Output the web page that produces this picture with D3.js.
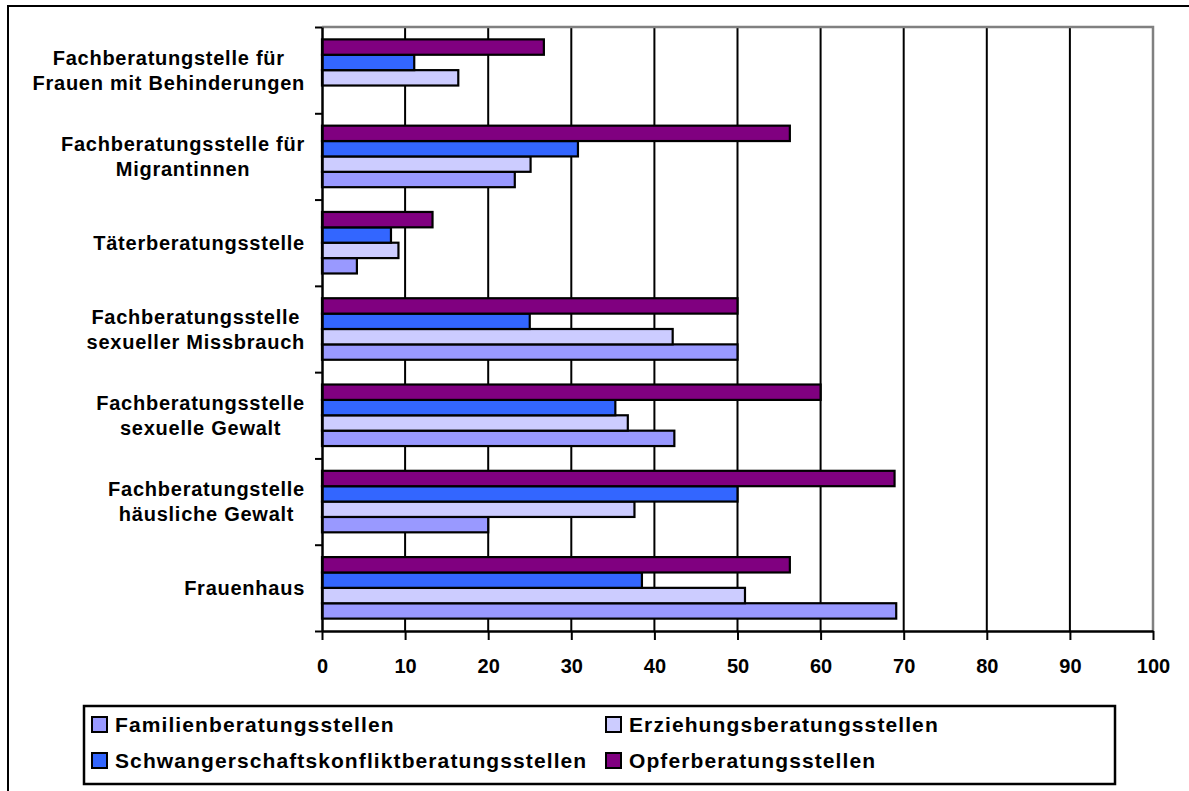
<!DOCTYPE html>
<html>
<head>
<meta charset="utf-8">
<script src="https://cdn.jsdelivr.net/npm/d3@7"></script>
<style>
  body { margin: 0; background: #fff; }
  svg text { font-family: "Liberation Sans", Arial, sans-serif; font-weight: bold; fill: #000; }
</style>
</head>
<body>
<div id="chart"></div>
<script>
// categories, top to bottom
const categories = [
    ["Fachberatungstelle für", "Frauen mit Behinderungen"],
    ["Fachberatungsstelle für", "Migrantinnen"],
    ["Täterberatungsstelle"],
    ["Fachberatungsstelle", "sexueller Missbrauch"],
    ["Fachberatungsstelle", "sexuelle Gewalt"],
    ["Fachberatungstelle", "häusliche Gewalt"],
    ["Frauenhaus"]
];

// series values, same order as categories
const familien = [0, 23.2, 4.2, 50.0, 42.4, 20.0, 69.1];
const erziehung = [16.4, 25.1, 9.2, 42.2, 36.8, 37.6, 50.9];
const schwanger = [11.1, 30.8, 8.3, 25.0, 35.3, 50.0, 38.5];
const opfer = [26.7, 56.3, 13.3, 50.0, 60.0, 68.9, 56.3];

const seriesNames = ["Familienberatungsstellen", "Erziehungsberatungsstellen",
    "Schwangerschaftskonfliktberatungsstellen", "Opferberatungsstellen"];
const seriesColors = ["#9999FF", "#CCCCFF", "#3366FF", "#800080"];
const seriesValues = [familien, erziehung, schwanger, opfer];

const xTicks = [0, 10, 20, 30, 40, 50, 60, 70, 80, 90, 100];

const W = 1189, H = 791;
const plot = { left: 322, right: 1153, top: 27, bottom: 631 };

const svg = d3.select("#chart").append("svg")
    .attr("width", W)
    .attr("height", H);

// outer frame (runs off the right and bottom edge)
svg.append("rect")
    .attr("x", 8).attr("y", 6)
    .attr("width", W + 20).attr("height", H + 20)
    .attr("fill", "#fff")
    .attr("stroke", "#000")
    .attr("stroke-width", 2);

const catKeys = categories.map(function (c) { return c.join(" "); });

let x = d3.scaleLinear().domain([0, 100]).range([plot.left, plot.right]);
let y = d3.scaleBand().domain(catKeys).range([plot.top, plot.bottom])
    .paddingInner(0.287).paddingOuter(0.1435);
// bars inside a group: Opfer on top, Familien at the bottom
let ySub = d3.scaleBand().domain([3, 2, 1, 0]).range([0, y.bandwidth()]);

// grid lines
svg.append("g")
    .selectAll("line")
    .data(xTicks.filter(function (d) { return d > 0 && d < 100; }))
    .enter().append("line")
    .attr("x1", function (d) { return x(d); })
    .attr("x2", function (d) { return x(d); })
    .attr("y1", plot.top).attr("y2", plot.bottom)
    .attr("stroke", "#000").attr("stroke-width", 2);

// plot border, top and right
svg.append("path")
    .attr("d", "M" + plot.left + "," + plot.top + "H" + plot.right + "V" + plot.bottom)
    .attr("fill", "none").attr("stroke", "#808080").attr("stroke-width", 2.5);

// bars
seriesValues.forEach(function (vals, si) {
    svg.append("g")
        .selectAll("rect")
        .data(vals.map(function (v, i) { return { cat: catKeys[i], v: v }; }).filter(function (d) { return d.v > 0; }))
        .enter().append("rect")
        .attr("x", x(0))
        .attr("y", function (d) { return y(d.cat) + ySub(si); })
        .attr("width", function (d) { return x(d.v) - x(0); })
        .attr("height", ySub.bandwidth())
        .attr("fill", seriesColors[si])
        .attr("stroke", "#000")
        .attr("stroke-width", 2.2);
});

// X axis
let xAxis = svg.append("g")
    .attr("transform", "translate(0," + plot.bottom + ")")
    .call(d3.axisBottom(x).tickValues(xTicks).tickSize(9).tickSizeOuter(0));
xAxis.select(".domain").attr("stroke", "#000").attr("stroke-width", 2.5);
xAxis.selectAll(".tick line").attr("stroke", "#000").attr("stroke-width", 2);
xAxis.selectAll("text")
    .attr("y", 42).attr("dy", null)
    .style("font-size", "20px")
    .style("font-family", "'Liberation Sans', Arial, sans-serif")
    .style("font-weight", "bold");

// Y axis, ticks between the categories
let yTickScale = d3.scaleLinear().domain([0, categories.length]).range([plot.top, plot.bottom]);
let yAxis = svg.append("g")
    .attr("transform", "translate(" + plot.left + ",0)")
    .call(d3.axisLeft(yTickScale).ticks(categories.length).tickFormat("").tickSize(7).tickSizeOuter(0));
yAxis.select(".domain").attr("stroke", "#000").attr("stroke-width", 2.5);
yAxis.selectAll(".tick line").attr("stroke", "#000").attr("stroke-width", 2);

// category labels: lines centred on each other, block right aligned
const labelRight = 305, lineGap = 25;
categories.forEach(function (lines, i) {
    let cy = y(catKeys[i]) + y.bandwidth() / 2;
    let t = svg.append("text")
        .attr("text-anchor", "middle")
        .style("font-size", "20px")
        .style("letter-spacing", "0.75px");
    lines.forEach(function (ln, j) {
        t.append("tspan")
            .attr("y", cy + 7 + (j - (lines.length - 1) / 2) * lineGap)
            .text(ln);
    });
    let maxW = d3.max(t.selectAll("tspan").nodes(), function (n) { return n.getComputedTextLength(); });
    t.selectAll("tspan").attr("x", labelRight - maxW / 2);
});

// legend
const legend = { x: 84, y: 706, w: 1031, h: 78 };
svg.append("rect")
    .attr("x", legend.x).attr("y", legend.y)
    .attr("width", legend.w).attr("height", legend.h)
    .attr("fill", "#fff").attr("stroke", "#000").attr("stroke-width", 2.5);

const legendCols = [92, 606], legendRows = [717, 753];
seriesNames.forEach(function (name, i) {
    let lx = legendCols[i % 2], ly = legendRows[Math.floor(i / 2)];
    svg.append("rect")
        .attr("x", lx).attr("y", ly)
        .attr("width", 15).attr("height", 15)
        .attr("fill", seriesColors[i])
        .attr("stroke", "#000").attr("stroke-width", 2);
    svg.append("text")
        .attr("x", lx + 23).attr("y", ly + 15)
        .style("font-size", "21px")
        .style("letter-spacing", "1.1px")
        .text(name);
});
</script>
</body>
</html>
